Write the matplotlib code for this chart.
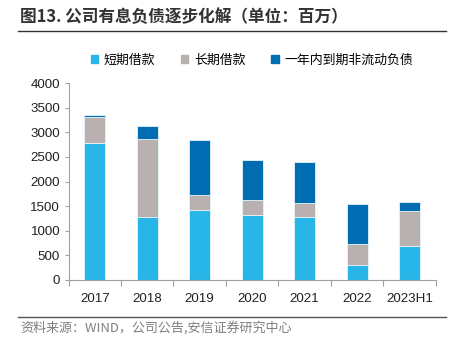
import matplotlib
matplotlib.use("Agg")
import matplotlib.pyplot as plt
import numpy as np
from matplotlib.lines import Line2D

categories = ["2017", "2018", "2019", "2020", "2021", "2022", "2023H1"]
short_loans = [2780, 1280, 1430, 1320, 1270, 310, 700]
long_loans = [520, 1590, 290, 300, 290, 415, 700]
current_noncurrent = [50, 260, 1130, 810, 830, 810, 175]
series_names = ["短期借款", "长期借款", "一年内到期非流动负债"]
colors = ["#27B6E7", "#B9B1AF", "#006DB3"]

cjk = ["Noto Sans CJK SC", "DejaVu Sans"]
num_font = ["Liberation Sans", "DejaVu Sans"]

W, H = 454, 348
fig = plt.figure(figsize=(W/100, H/100), dpi=100)
ax = fig.add_axes([68.5/W, 1-280/H, (435.7-68.5)/W, (280-83)/H])

x = np.arange(len(categories))
bottom = np.zeros(len(categories))
for vals, c in zip([short_loans, long_loans, current_noncurrent], colors):
    ax.bar(x, vals, width=0.4, bottom=bottom, color=c, edgecolor="#E8F4FA", linewidth=0.6)
    bottom += np.array(vals)

ax.set_xlim(-0.5, len(categories)-0.5)
ax.set_ylim(0, 4000)
ax.set_yticks(np.arange(0, 4001, 500))
ax.set_yticklabels([str(v) for v in range(0, 4001, 500)], fontfamily=num_font, fontsize=9.6, color="#222222")
ax.set_xticks(x)
ax.set_xticklabels(categories, fontfamily=num_font, fontsize=9.6, color="#222222")
ax.set_xticks(np.arange(-0.5, len(categories)), minor=True)
ax.tick_params(axis="x", which="major", length=0, pad=9)
ax.tick_params(axis="x", which="minor", length=4, color="#A0A0A0", width=0.8)
ax.tick_params(axis="y", length=3, color="#A0A0A0", width=0.8, pad=3)
for s in ["top", "right"]:
    ax.spines[s].set_visible(False)
for s in ["left", "bottom"]:
    ax.spines[s].set_color("#A0A0A0")
    ax.spines[s].set_linewidth(0.8)

# Title
fig.text(20/W, 1-17/H, "图13. 公司有息负债逐步化解（单位：百万）", fontfamily=cjk,
         fontsize=12, fontweight="bold", color="#333333", va="center", ha="left")
fig.add_artist(Line2D([18/W, 446/W], [1-30.5/H, 1-30.5/H], color="#333333", linewidth=1.0))

# Legend
handles = [plt.Rectangle((0, 0), 1, 1, color=c) for c in colors]
leg = fig.legend(handles, series_names, loc="center", bbox_to_anchor=(252/W, 1-60/H),
                 ncol=3, frameon=False, prop={"family": cjk, "size": 9.3},
                 handlelength=0.55, handleheight=0.55, handletextpad=0.45, columnspacing=2.0)

# Bottom line and source
fig.add_artist(Line2D([18/W, 446/W], [1-317/H, 1-317/H], color="#555555", linewidth=1.0))
fig.text(20/W, 1-328/H, "资料来源：WIND，公司公告,安信证券研究中心", fontfamily=cjk,
         fontsize=9.4, style="italic", color="#808080", va="center", ha="left")

fig.savefig("out.png", dpi=100)
